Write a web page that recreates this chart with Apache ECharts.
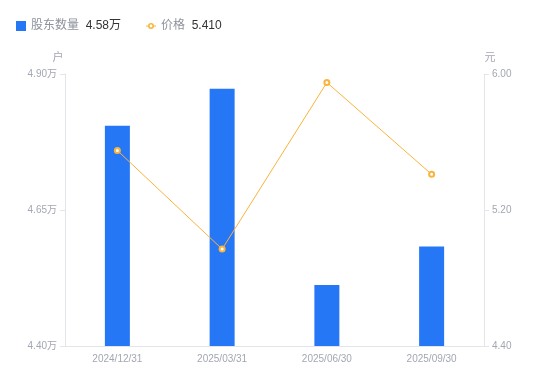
<!DOCTYPE html>
<html>
<head>
<meta charset="utf-8">
<script src="https://cdn.jsdelivr.net/npm/echarts@6/dist/echarts.min.js"></script>
<style>
  html, body { margin: 0; padding: 0; background: #fff; }
  #chart { width: 550px; height: 381px; }
</style>
</head>
<body>
<div id="chart"></div>
<script>
const dates = ['2024/12/31', '2025/03/31', '2025/06/30', '2025/09/30'];
const holders = [4.805, 4.873, 4.512, 4.583];   // 万户
const prices = [5.55, 4.97, 5.95, 5.41];        // 元
const holderTicks = [4.40, 4.90, 0.25];         // min, max, interval
const priceTicks = [4.40, 6.00, 0.80];

const fontFamily = 'Arial, "Liberation Sans", "Noto Sans CJK SC", sans-serif';
const blue = '#2677F6';
const orange = '#FAB33C';
const axisGray = '#E3E5EA';
const labelGray = '#A3A7B1';

// legend icon for the price line: short line with a ring in the middle
const lineIcon = 'path://M0,2.5 L2.6,2.5 L2.6,3.5 L0,3.5 Z M7.4,2.5 L10,2.5 L10,3.5 L7.4,3.5 Z ' +
  'M8,3 A3,3 0 1,1 2,3 A3,3 0 1,1 8,3 Z M6.4,3 A1.4,1.4 0 1,0 3.6,3 A1.4,1.4 0 1,0 6.4,3 Z';

const chart = echarts.init(document.getElementById('chart'));

const lastHolder = holders[holders.length - 1].toFixed(2) + '万';
const lastPrice = prices[prices.length - 1].toFixed(3);

const option = {
  animation: false,
  textStyle: { fontFamily: fontFamily },
  legend: {
    left: 11,
    top: 15,
    itemWidth: 10,
    itemHeight: 10,
    itemGap: 25,
    data: [
      { name: '股东数量', icon: 'rect' },
      { name: '价格', icon: lineIcon, itemStyle: { color: orange, borderWidth: 0 } }
    ],
    formatter: function (name) {
      const v = name === '股东数量' ? lastHolder : lastPrice;
      return '{a|' + name + '}  {b|' + v + '}';
    },
    textStyle: {
      rich: {
        a: { color: '#8E929C', fontSize: 12, fontFamily: fontFamily },
        b: { color: '#333333', fontSize: 12, fontFamily: fontFamily }
      }
    }
  },
  grid: { left: 65, right: 66, top: 74, bottom: 35 },
  xAxis: {
    type: 'category',
    data: dates,
    axisLine: { lineStyle: { color: axisGray } },
    axisTick: { show: false },
    axisLabel: { color: labelGray, fontSize: 10, margin: 8 }
  },
  yAxis: [
    {
      type: 'value',
      name: '户',
      nameGap: 11,
      nameTextStyle: { color: labelGray, fontSize: 11, padding: [0, 14, 0, 0] },
      min: holderTicks[0],
      max: holderTicks[1],
      interval: holderTicks[2],
      axisLine: { show: true, lineStyle: { color: axisGray } },
      axisTick: { show: true, length: 5, lineStyle: { color: axisGray } },
      splitLine: { show: false },
      axisLabel: {
        color: labelGray,
        fontSize: 10,
        formatter: function (v) { return v.toFixed(2) + '万'; }
      }
    },
    {
      type: 'value',
      name: '元',
      nameGap: 11,
      nameTextStyle: { color: labelGray, fontSize: 11, padding: [0, 0, 0, 12] },
      min: priceTicks[0],
      max: priceTicks[1],
      interval: priceTicks[2],
      axisLine: { show: true, lineStyle: { color: axisGray } },
      axisTick: { show: true, length: 5, lineStyle: { color: axisGray } },
      splitLine: { show: false },
      axisLabel: {
        color: labelGray,
        fontSize: 10,
        formatter: function (v) { return v.toFixed(2); }
      }
    }
  ],
  series: [
    {
      name: '股东数量',
      type: 'bar',
      yAxisIndex: 0,
      barWidth: 25,
      data: holders,
      itemStyle: { color: blue }
    },
    {
      name: '价格',
      type: 'line',
      yAxisIndex: 1,
      data: prices,
      symbol: 'emptyCircle',
      symbolSize: 5,
      lineStyle: { color: orange, width: 1 },
      itemStyle: { color: orange, borderColor: orange, borderWidth: 2 }
    }
  ]
};

chart.setOption(option);
</script>
</body>
</html>
